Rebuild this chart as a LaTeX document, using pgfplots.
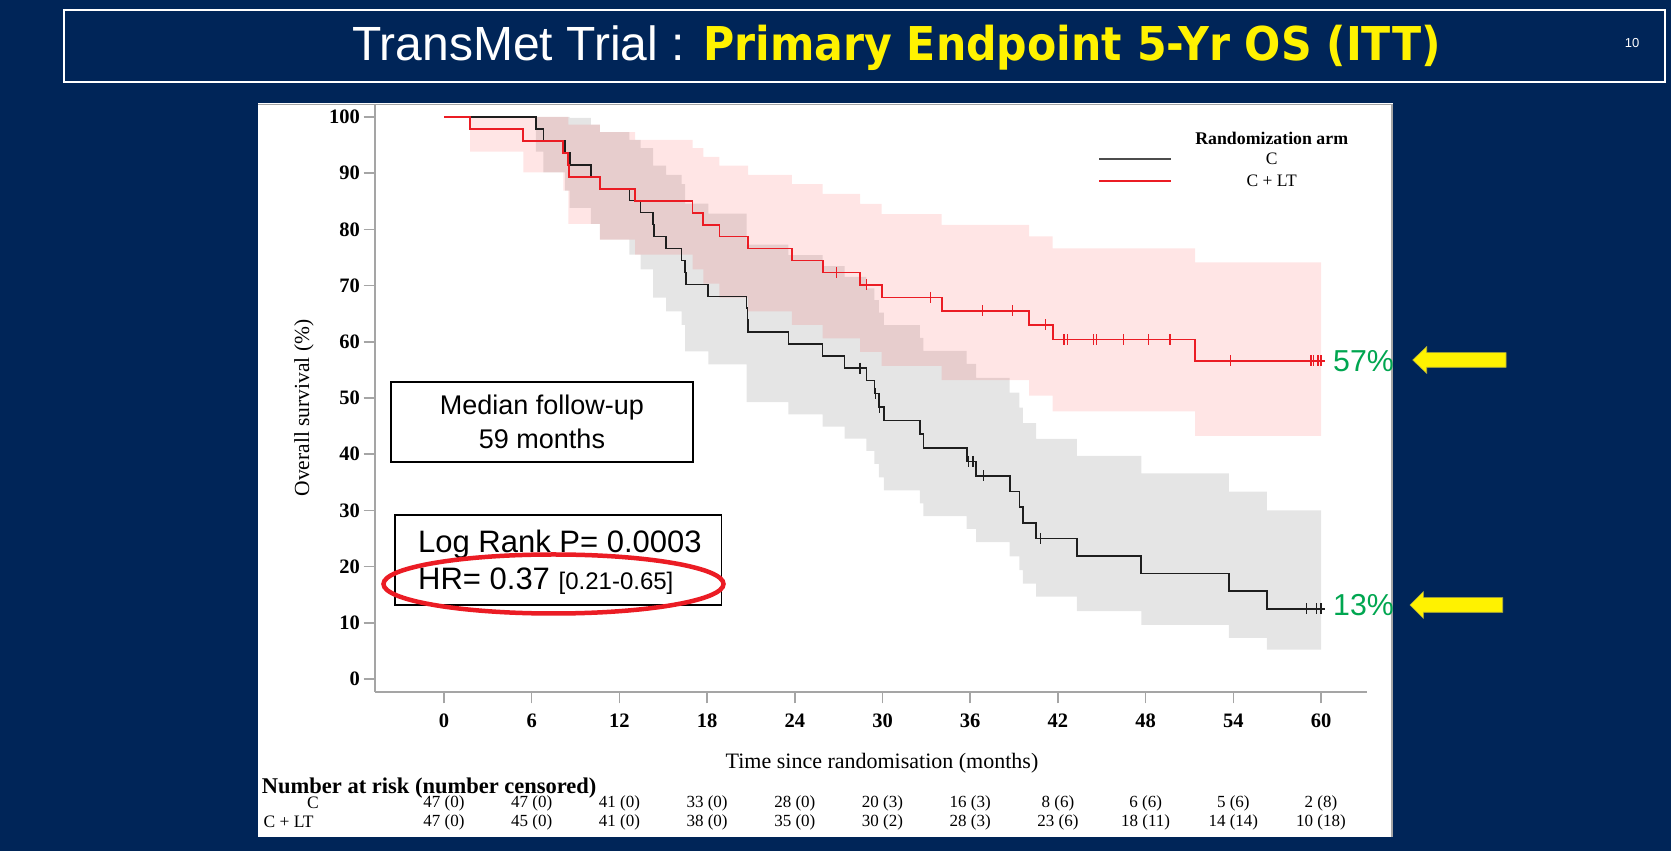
\documentclass[border=0pt]{standalone}
\usepackage{pgfplots}
\pgfplotsset{compat=1.18}
\usepackage{fontspec}
\setmainfont{Liberation Serif}
\newfontfamily\arial{Liberation Sans}
\newfontfamily\dejavu{DejaVu Sans}
\definecolor{bgblue}{RGB}{0,37,88}
\definecolor{kmred}{RGB}{235,28,36}
\definecolor{kmblack}{RGB}{30,30,30}
\definecolor{kmgreen}{RGB}{0,166,80}
\definecolor{axgray}{RGB}{165,165,165}
\newcommand{\fs}[1]{\fontsize{#1}{#1}\selectfont}

\pgfplotstableread{
t s
0 100
6.29 97.87
6.8 95.74
8.28 93.62
8.6 91.49
10.05 89.36
10.67 87.23
12.68 85.11
13.45 82.98
14.28 80.85
14.35 78.72
15.2 76.60
16.26 74.47
16.49 72.34
16.55 70.21
18.08 68.09
20.7 65.96
20.75 63.83
20.8 61.70
23.56 59.57
25.9 57.45
27.4 55.32
28.9 53.11
29.45 50.80
29.75 48.38
30.1 45.96
32.55 43.54
32.8 41.12
35.76 38.70
36.4 36.12
38.7 33.34
39.36 30.57
39.6 27.79
40.5 25.01
43.3 21.88
47.7 18.76
53.7 15.63
56.3 12.50
60.3 12.50
}\armC
\pgfplotstableread{
t s
0 100
1.78 97.87
5.43 95.74
8.16 93.62
8.5 91.49
8.55 89.36
10.67 87.23
13.07 85.11
17.0 82.98
17.74 80.85
18.84 78.72
20.8 76.60
23.8 74.47
25.9 72.34
28.46 70.15
29.94 67.89
34.05 65.54
40.02 63.02
41.64 60.40
51.38 56.62
60.3 56.62
}\armLT

\begin{document}
\begin{tikzpicture}[x=1pt,y=1pt]
\useasboundingbox (0,0) rectangle (1671,851);
\fill[bgblue] (0,0) rectangle (1671,851);
% title
\draw[white, line width=2pt] (64,841) rectangle (1664.6,769.3);
\node[anchor=base west, inner sep=0, text=white, font=\arial\fs{48}] at (352,790) {TransMet Trial :};
\node[anchor=base west, inner sep=0, text=yellow, font=\dejavu\bfseries\fs{46.6}] at (703,790) {\scalebox{0.915}[1]{Primary Endpoint 5-Yr OS (ITT)}};
\node[text=white, font=\arial\fs{13}] at (1632,808) {10};
% panel
\fill[white] (258,14) rectangle (1393,748);
\draw[axgray, line width=1.5pt] (258,746.5) -- (1392,746.5) -- (1392,14);

\begin{axis}[
  at={(375pt,159pt)}, anchor=south west,
  scale only axis, width=992.1pt, height=587pt,
  xmin=-4.7206, xmax=63.15, ymin=-2.313, ymax=102.135,
  axis x line*=bottom, axis y line*=left,
  axis line style={axgray, line width=1.5pt},
  xtick={0,6,...,60}, ytick={0,10,...,100},
  tick align=outside, major tick length=11.5pt,
  tick style={axgray, line width=1.5pt},
  tick label style={font=\bfseries\fs{20.5}, text=black},
  xticklabel style={yshift=-7pt},
  /pgf/number format/assume math mode=true,
]
% C arm confidence band
\addplot[fill=black, fill opacity=0.1, draw=none] coordinates {
(6.29,100) (8.6,100) (8.6,99.83) (10.05,99.83) (10.05,98.63) (10.67,98.63) (10.67,97.32) (12.68,97.32) (12.68,95.92) (13.45,95.92) (13.45,94.45) (14.3,94.45) (14.3,91.34) (15.2,91.34) (15.2,89.71) (16.26,89.71) (16.26,88.04) (16.5,88.04) (16.5,84.58) (18.08,84.58) (18.08,82.81) (20.7,82.81) (20.7,77.29) (23.56,77.29) (23.56,75.40) (25.9,75.40) (25.9,73.47) (27.4,73.47) (27.4,71.53) (28.9,71.53) (28.9,69.51) (29.45,69.51) (29.45,67.40) (29.75,67.40) (29.75,65.21) (30.1,65.21) (30.1,62.98) (32.55,62.98) (32.55,60.71) (32.8,60.71) (32.8,58.40) (35.76,58.40) (35.76,56.05) (36.4,56.05) (36.4,53.58) (38.7,53.58) (38.7,50.97) (39.36,50.97) (39.36,48.29) (39.6,48.29) (39.6,45.54) (40.5,45.54) (40.5,42.72) (43.3,42.72) (43.3,39.72) (47.7,39.72) (47.7,36.60) (53.7,36.60) (53.7,33.36) (56.3,33.36) (56.3,30.02) (60,30.02)
(60,5.21) (56.3,5.21) (56.3,7.32) (53.7,7.32) (53.7,9.61) (47.7,9.61) (47.7,12.06) (43.3,12.06) (43.3,14.64) (40.5,14.64) (40.5,16.95) (39.6,16.95) (39.6,19.35) (39.36,19.35) (39.36,21.81) (38.7,21.81) (38.7,24.35) (36.4,24.35) (36.4,26.72) (35.76,26.72) (35.76,28.96) (32.8,28.96) (32.8,31.23) (32.55,31.23) (32.55,33.54) (30.1,33.54) (30.1,35.89) (29.75,35.89) (29.75,38.28) (29.45,38.28) (29.45,40.58) (28.9,40.58) (28.9,42.79) (27.4,42.79) (27.4,44.92) (25.9,44.92) (25.9,47.07) (23.56,47.07) (23.56,49.26) (20.7,49.26) (20.7,55.98) (18.08,55.98) (18.08,58.28) (16.5,58.28) (16.5,62.99) (16.26,62.99) (16.26,65.40) (15.2,65.40) (15.2,67.85) (14.3,67.85) (14.3,72.90) (13.45,72.90) (13.45,75.51) (12.68,75.51) (12.68,78.20) (10.67,78.20) (10.67,80.97) (10.05,80.97) (10.05,83.85) (8.6,83.85) (8.6,86.88) (8.28,86.88) (8.28,90.14) (6.8,90.14) (6.8,93.83) (6.29,93.83)
};
% C + LT arm confidence band
\addplot[fill=red, fill opacity=0.1, draw=none] coordinates {
(1.78,100) (8.5,100) (8.5,98.63) (10.67,98.63) (10.67,97.32) (13.07,97.32) (13.07,95.92) (17.0,95.92) (17.0,94.45) (17.74,94.45) (17.74,92.92) (18.84,92.92) (18.84,91.34) (20.8,91.34) (20.8,89.71) (23.8,89.71) (23.8,88.04) (25.9,88.04) (25.9,86.33) (28.46,86.33) (28.46,84.55) (29.94,84.55) (29.94,82.71) (34.05,82.71) (34.05,80.79) (40.02,80.79) (40.02,78.76) (41.64,78.76) (41.64,76.62) (51.38,76.62) (51.38,74.13) (60,74.13)
(60,43.25) (51.38,43.25) (51.38,47.61) (41.64,47.61) (41.64,50.43) (40.02,50.43) (40.02,53.17) (34.05,53.17) (34.05,55.72) (29.94,55.72) (29.94,58.20) (28.46,58.20) (28.46,60.62) (25.9,60.62) (25.9,62.99) (23.8,62.99) (23.8,65.40) (20.8,65.40) (20.8,67.85) (18.84,67.85) (18.84,70.35) (17.74,70.35) (17.74,72.90) (17.0,72.90) (17.0,75.51) (13.07,75.51) (13.07,78.20) (10.67,78.20) (10.67,80.97) (8.5,80.97) (8.5,86.88) (8.16,86.88) (8.16,90.14) (5.43,90.14) (5.43,93.83) (1.78,93.83)
};

\addplot[const plot, kmblack, line width=1.6pt] table[x=t,y=s] {\armC};
\addplot[const plot, kmred, line width=1.8pt] table[x=t,y=s] {\armLT};

\addplot[only marks, mark=|, mark size=5.5pt, mark options={kmblack, line width=1.4pt}] coordinates {
(28.46,55.32) (29.5,50.80) (29.8,48.38) (35.9,38.70) (36.2,38.70) (36.9,36.12) (40.8,25.01) (59.0,12.50) (59.7,12.50) (60.0,12.50)};
\addplot[only marks, mark=|, mark size=5.5pt, mark options={kmred, line width=1.4pt}] coordinates {
(26.87,72.34) (28.9,70.15) (33.3,67.89) (36.83,65.54) (38.9,65.54) (41.16,63.02) (42.42,60.40) (42.64,60.40) (44.42,60.40) (44.65,60.40) (46.47,60.40) (48.18,60.40) (49.67,60.40) (53.82,56.62) (59.3,56.62) (59.5,56.62) (59.8,56.62) (60.0,56.62)};
\end{axis}

% axis labels
\node[rotate=90, font=\fs{21.5}] at (304,443) {Overall survival (\%)};
\node[font=\fs{22}] at (882,88) {Time since randomisation (months)};

% legend
\node[font=\bfseries\fs{17.8}] at (1271.7,712.7) {Randomization arm};
\node[font=\fs{17.5}] at (1271.7,691.7) {C};
\node[font=\fs{17.5}] at (1271.7,670) {C + LT};
\draw[black!70, line width=2.2pt] (1099.3,691.7) -- (1170.7,691.7);
\draw[kmred, line width=2.2pt] (1099.3,670) -- (1170.7,670);

% boxes
\draw[black, line width=1.8pt, fill=white] (390.7,469.3) rectangle (693.3,389.3);
\node[anchor=base, inner sep=0, font=\arial\fs{27}] at (542,436) {Median follow-up};
\node[anchor=base, inner sep=0, font=\arial\fs{27}] at (542,402.7) {59 months};
\draw[black, line width=1.6pt, fill=white] (395,336) rectangle (721.4,246);
\node[anchor=base west, inner sep=0, font=\arial\fs{31}] at (418,298.7) {Log Rank P= 0.0003};
\node[anchor=base west, inner sep=0, font=\arial\fs{31}] at (418,261) {HR= 0.37 {\fs{24}[0.21-0.65]}};
\draw[kmred, line width=4.5pt] (553.5,267) ellipse [x radius=170, y radius=29.5];

% end labels and arrows
\node[anchor=base west, inner sep=0, text=kmgreen, font=\arial\fs{30.3}] at (1333,479.1) {57\%};
\node[anchor=base west, inner sep=0, text=kmgreen, font=\arial\fs{30.3}] at (1333,235.1) {13\%};
\filldraw[fill=yellow, draw=yellow!70!black, line width=0.6pt] (1412.7,491) -- (1426.7,504.3) -- (1426.7,498.3) -- (1506,498.3) -- (1506,483.7) -- (1426.7,483.7) -- (1426.7,477.7) -- cycle;
\filldraw[fill=yellow, draw=yellow!70!black, line width=0.6pt] (1410,246) -- (1423.3,259.3) -- (1423.3,253.3) -- (1502.7,253.3) -- (1502.7,238.7) -- (1423.3,238.7) -- (1423.3,232.7) -- cycle;

% number at risk
\node[anchor=base west, inner sep=0, font=\bfseries\fs{22.5}] at (261.7,57.7) {Number at risk (number censored)};
\node[font=\fs{17.5}] at (313,48) {C};
\node[anchor=west, inner sep=0, font=\fs{17.5}] at (263.3,29) {C + LT};
\foreach \i/\a/\b in {0/47 (0)/47 (0), 1/47 (0)/45 (0), 2/41 (0)/41 (0), 3/33 (0)/38 (0), 4/28 (0)/35 (0), 5/20 (3)/30 (2), 6/16 (3)/28 (3), 7/8 (6)/23 (6), 8/6 (6)/18 (11), 9/5 (6)/14 (14), 10/2 (8)/10 (18)} {
  \node[font=\fs{17}] at ({444+87.702*\i},48) {\a};
  \node[font=\fs{17}] at ({444+87.702*\i},29) {\b};
}
\end{tikzpicture}
\end{document}
